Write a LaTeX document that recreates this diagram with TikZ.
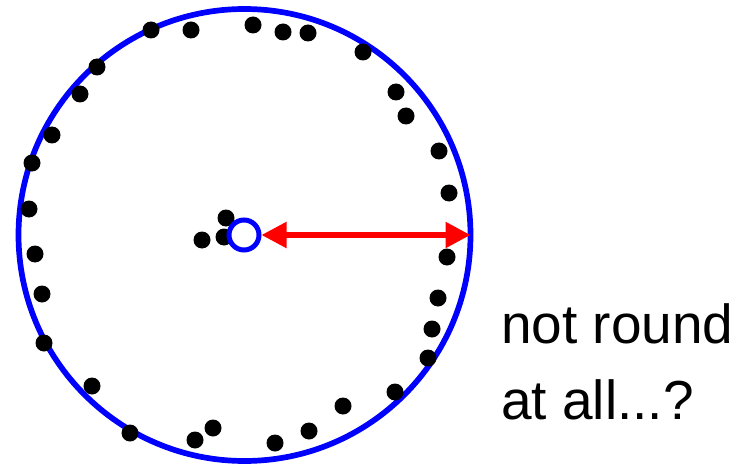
\documentclass[tikz,border=0pt]{standalone}
\usepackage{fontspec}
\setmainfont{Liberation Sans}
\usetikzlibrary{arrows.meta}
\definecolor{ringblue}{RGB}{0,0,255}
\definecolor{armred}{RGB}{255,0,0}
\tikzset{
	dot/.style={circle, fill=black, inner sep=0pt, minimum size=17pt},
}
\begin{document}
\begin{tikzpicture}[x=1pt,y=-1pt]
		\useasboundingbox (0,0) rectangle (743,465);
		\node[
			draw=ringblue, line width=5.7pt, circle, inner sep=0pt, outer sep=0pt,
			minimum size=452pt
		](ring) at (244.5,235){};
		\foreach \px/\py [count=\i] in {
			151/30,191/30,253/25,283/32,308/33,363/52,97/67,80/94,
			396/92,406/116,52/135,439/151,32/163,449/193,29/209,
			226/218,202/240,224/237,35/254,447/257,42/294,438/298,
			432/329,44/343,428/358,92/386,395/392,343/406,130/433,
			213/428,195/440,309/431,275/443}
			\node[dot] (d\i) at (\px,\py) {};
		\node[
			draw=ringblue, line width=5pt, circle, fill=white, inner sep=0pt,
			minimum size=30pt
		](mid) at (244,235){};
		\draw[
			armred, line width=5.3pt,
			{Triangle[length=25pt,width=25pt]}-{Triangle[length=25pt,width=25pt]}
		] (mid.east) -- (ring.east);
		\node[
			anchor=base west, align=left, inner sep=0pt,
			font=\fontsize{55}{76}\selectfont
		](note) at (501,419){not round\\at all...?};
	\end{tikzpicture}
\end{document}
